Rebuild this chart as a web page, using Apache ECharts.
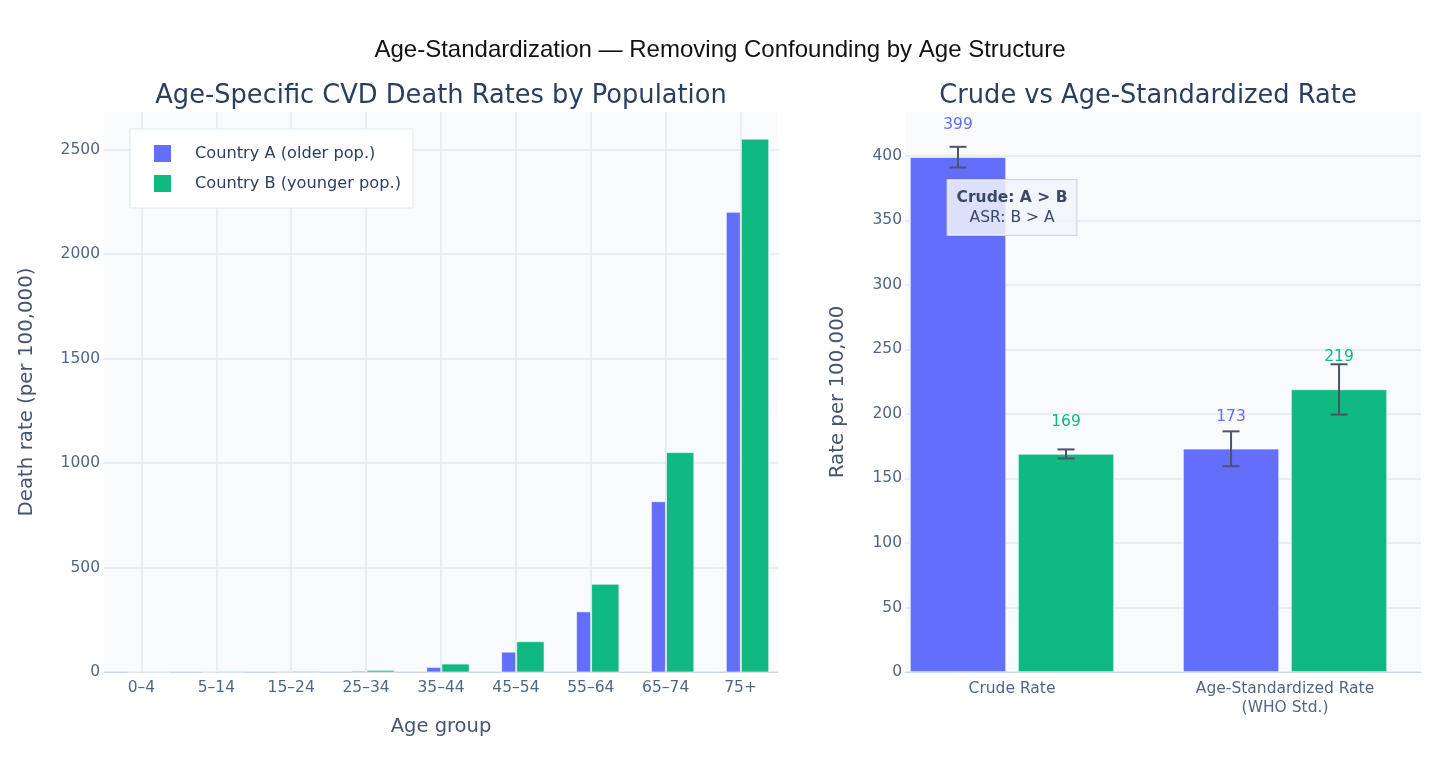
<!DOCTYPE html>
<html>
<head>
<meta charset="utf-8">
<script src="https://cdn.jsdelivr.net/npm/echarts@6/dist/echarts.min.js"></script>
<style>
html,body{margin:0;padding:0;background:#fff;}
#chart{width:1440px;height:768px;}
</style>
</head>
<body>
<div id="chart"></div>
<script>
// ---- data ----
const ageGroups = ['0–4', '5–14', '15–24', '25–34', '35–44', '45–54', '55–64', '65–74', '75+'];
const rateA = [0.5, 1, 2, 4, 22, 95, 288, 815, 2200];
const rateB = [1, 2, 3, 8, 38, 145, 420, 1050, 2550];
const measures = ['Crude Rate', 'Age-Standardized Rate\n(WHO Std.)'];
const summaryA = [399, 173];
const errorA = [8, 13.5];
const summaryB = [169, 219];
const errorB = [3.5, 19.5];
const nameA = 'Country A (older pop.)';
const nameB = 'Country B (younger pop.)';
const yTicksLeft = {min: 0, max: 2680, interval: 500};
const yTicksRight = {min: 0, max: 434, interval: 50};

// ---- style ----
const colA = '#636EFA';
const colB = '#10B981';
const tickColor = '#506784';
const titleColor = '#445570';
const gridColor = '#E2E8F0';
const font = 'DejaVu Sans';

const chart = echarts.init(document.getElementById('chart'));

function groupBar(off0, off1, color) {
  return function (params, api) {
    const x = api.value(0), v = api.value(1);
    const top = api.coord([x, v]);
    const base = api.coord([x, 0]);
    const unit = api.size([1, 0])[0];
    return {
      type: 'rect',
      shape: {x: top[0] + off0 * unit, y: top[1], width: (off1 - off0) * unit, height: base[1] - top[1]},
      style: {fill: color, stroke: '#ffffff', lineWidth: 0.6}
    };
  };
}

function errorBar(offPx) {
  return function (params, api) {
    const i = api.value(0), v = api.value(1), e = api.value(2);
    const hi = api.coord([i, v + e]);
    const lo = api.coord([i, v - e]);
    const x = hi[0] + offPx;
    const st = {stroke: '#4A5568', lineWidth: 2};
    return {
      type: 'group',
      children: [
        {type: 'line', shape: {x1: x, y1: hi[1], x2: x, y2: lo[1]}, style: st},
        {type: 'line', shape: {x1: x - 8.5, y1: hi[1], x2: x + 8.5, y2: hi[1]}, style: st},
        {type: 'line', shape: {x1: x - 8.5, y1: lo[1], x2: x + 8.5, y2: lo[1]}, style: st}
      ]
    };
  };
}

function catLabel(list) {
  return function (v) {
    return Number.isInteger(v) && list[v] !== undefined ? list[v] : '';
  };
}
function plain(v) { return String(v); }

const barW = 96, barGapPx = 12;
const errOff = barW / 2 + barGapPx / 2;

const option = {
  backgroundColor: '#ffffff',
  animation: false,
  textStyle: {fontFamily: font},
  title: {
    text: 'Age-Standardization — Removing Confounding by Age Structure',
    left: 'center',
    top: 33,
    textStyle: {fontFamily: 'Liberation Sans', fontSize: 24, fontWeight: 'normal', color: '#111111'}
  },
  graphic: [
    {type: 'text', x: 441, y: 96, style: {text: 'Age-Specific CVD Death Rates by Population', align: 'center', verticalAlign: 'middle', fontFamily: font, fontSize: 25.7, fill: '#2A3F5F'}},
    {type: 'text', x: 1148, y: 96, style: {text: 'Crude vs Age-Standardized Rate', align: 'center', verticalAlign: 'middle', fontFamily: font, fontSize: 25.7, fill: '#2A3F5F'}}
  ],
  legend: {
    data: [{name: nameA, icon: 'rect', itemStyle: {color: colA}}, {name: nameB, icon: 'rect', itemStyle: {color: colB}}],
    orient: 'vertical',
    left: 130,
    top: 129,
    padding: [16, 12, 16, 24],
    itemWidth: 17,
    itemHeight: 17,
    itemGap: 13,
    backgroundColor: '#ffffff',
    borderColor: gridColor,
    borderWidth: 1,
    textStyle: {fontFamily: font, fontSize: 16.2, color: '#2A3F5F', padding: [0, 0, 0, 19]},
    selectedMode: false
  },
  grid: [
    {left: 104, top: 112, width: 674, height: 560, show: true, backgroundColor: '#F8FAFC', borderWidth: 0},
    {left: 905, top: 112, width: 516, height: 560, show: true, backgroundColor: '#F8FAFC', borderWidth: 0}
  ],
  xAxis: [
    {
      type: 'value', gridIndex: 0, min: -0.5, max: 8.5, minInterval: 1, maxInterval: 1,
      name: 'Age group', nameLocation: 'middle', nameGap: 45,
      nameTextStyle: {fontFamily: font, fontSize: 19.5, color: titleColor},
      axisLine: {show: true, lineStyle: {color: '#CBD5E1'}},
      axisTick: {show: false},
      axisLabel: {margin: 8, fontFamily: font, fontSize: 15.5, color: tickColor, showMinLabel: false, showMaxLabel: false, formatter: catLabel(ageGroups)},
      splitLine: {show: true, showMinLine: false, showMaxLine: false, lineStyle: {color: gridColor, width: 1.5}}
    },
    {
      type: 'value', gridIndex: 1, min: -0.392, max: 1.498, minInterval: 1, maxInterval: 1,
      axisLine: {show: true, lineStyle: {color: '#CBD5E1'}},
      axisTick: {show: false},
      axisLabel: {margin: 7, fontFamily: font, fontSize: 15.5, color: tickColor, lineHeight: 19, showMinLabel: false, showMaxLabel: false, formatter: catLabel(measures)},
      splitLine: {show: false}
    }
  ],
  yAxis: [
    {
      type: 'value', gridIndex: 0, min: yTicksLeft.min, max: yTicksLeft.max, interval: yTicksLeft.interval,
      name: 'Death rate (per 100,000)', nameLocation: 'middle', nameGap: 67,
      nameTextStyle: {fontFamily: font, fontSize: 19.8, color: titleColor},
      axisLine: {show: false}, axisTick: {show: false},
      axisLabel: {margin: 4, fontFamily: font, fontSize: 15.5, color: tickColor, showMaxLabel: false, formatter: plain},
      splitLine: {show: true, showMaxLine: false, lineStyle: {color: gridColor, width: 1.5}}
    },
    {
      type: 'value', gridIndex: 1, min: yTicksRight.min, max: yTicksRight.max, interval: yTicksRight.interval,
      name: 'Rate per 100,000', nameLocation: 'middle', nameGap: 57,
      nameTextStyle: {fontFamily: font, fontSize: 19.8, color: titleColor},
      axisLine: {show: false}, axisTick: {show: false},
      axisLabel: {margin: 3, fontFamily: font, fontSize: 15.5, color: tickColor, showMaxLabel: false, formatter: plain},
      splitLine: {show: true, showMaxLine: false, lineStyle: {color: gridColor, width: 1.5}}
    }
  ],
  series: [
    {
      name: nameA, type: 'custom', xAxisIndex: 0, yAxisIndex: 0,
      itemStyle: {color: colA},
      renderItem: groupBar(-0.19, -0.003, colA),
      encode: {x: 0, y: 1},
      data: ageGroups.map(function (g, i) { return [i, rateA[i]]; })
    },
    {
      name: nameB, type: 'custom', xAxisIndex: 0, yAxisIndex: 0,
      itemStyle: {color: colB},
      renderItem: groupBar(0.011, 0.376, colB),
      encode: {x: 0, y: 1},
      data: ageGroups.map(function (g, i) { return [i, rateB[i]]; })
    },
    {
      name: nameA, type: 'bar', xAxisIndex: 1, yAxisIndex: 1,
      barWidth: barW, barGap: (barGapPx / barW * 100) + '%',
      itemStyle: {color: colA, borderColor: '#ffffff', borderWidth: 0.6},
      label: {show: true, position: 'top', distance: 24, color: colA, fontFamily: font, fontSize: 15.5, formatter: function (p) { return p.value[1]; }},
      data: measures.map(function (m, i) { return [i, summaryA[i]]; })
    },
    {
      name: nameB, type: 'bar', xAxisIndex: 1, yAxisIndex: 1,
      barWidth: barW, barGap: (barGapPx / barW * 100) + '%',
      itemStyle: {color: colB, borderColor: '#ffffff', borderWidth: 0.6},
      label: {show: true, position: 'top', distance: 24, color: colB, fontFamily: font, fontSize: 15.5, formatter: function (p) { return p.value[1]; }},
      data: measures.map(function (m, i) { return [i, summaryB[i]]; })
    },
    {
      type: 'custom', xAxisIndex: 1, yAxisIndex: 1, z: 5,
      renderItem: errorBar(-errOff),
      encode: {x: 0, y: 1},
      data: measures.map(function (m, i) { return [i, summaryA[i], errorA[i]]; }),
      markPoint: {
        symbol: 'rect', symbolSize: 1,
        itemStyle: {color: 'rgba(0,0,0,0)'},
        data: [{
          coord: [0, 360],
          label: {
            show: true, position: 'inside',
            formatter: '{b|Crude: A > B}\n{n|ASR: B > A}',
            backgroundColor: 'rgba(241,245,249,0.85)',
            borderColor: '#CBD5E1', borderWidth: 1,
            padding: [8, 9, 7, 9],
            rich: {
              b: {fontFamily: font, fontSize: 15.5, fontWeight: 'bold', color: '#3B4A60', lineHeight: 20, align: 'center'},
              n: {fontFamily: font, fontSize: 15.5, color: '#3B4A60', lineHeight: 20, align: 'center'}
            }
          }
        }]
      }
    },
    {
      type: 'custom', xAxisIndex: 1, yAxisIndex: 1, z: 5,
      renderItem: errorBar(errOff),
      encode: {x: 0, y: 1},
      data: measures.map(function (m, i) { return [i, summaryB[i], errorB[i]]; })
    }
  ]
};
chart.setOption(option);
</script>
</body>
</html>
